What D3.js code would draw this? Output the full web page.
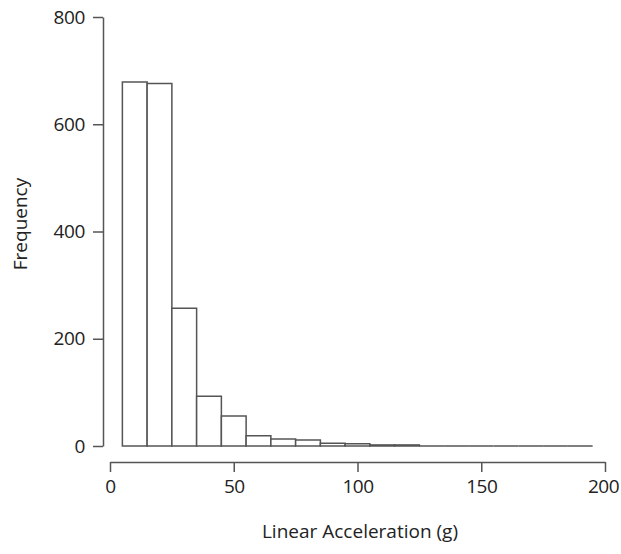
<!DOCTYPE html>
<html><head><meta charset="utf-8">
<script src="https://cdn.jsdelivr.net/npm/d3@7"></script>
<style>body{margin:0;background:#fff;} text{font-family:"Open Sans",sans-serif;fill:#222;}</style>
</head><body>
<svg id="c" width="621" height="554"></svg>
<script>
const binStarts = [5,15,25,35,45,55,65,75,85,95,105,115,125,135,145,155,165,175,185];
const binWidth = 10;
const frequency = [679,676,257,93,56,19,13,11,5,4,2,2,0,0,0,0,0,0,0];
const xTicks = [0,50,100,150,200];
const yTicks = [0,200,400,600,800];
const xLabel = "Linear Acceleration (g)";
const yLabel = "Frequency";

const svg = d3.select("#c");
const x = d3.scaleLinear().domain([0,200]).range([110,605]);
const y = d3.scaleLinear().domain([0,800]).range([446,17]);
const stroke = "#555";

// bars (paths so zero-height bins still show as a line)
svg.append("g").selectAll("path").data(binStarts).join("path")
  .attr("d", (d,i)=>{
    const x0=x(d), x1=x(d+binWidth), y0=y(0), y1=y(frequency[i]);
    return `M${x0},${y0}V${y1}H${x1}V${y0}Z`;
  })
  .attr("fill","#fff").attr("stroke",stroke).attr("stroke-width",1.5);

// y axis
const ya = svg.append("g").attr("transform","translate(103,0)")
  .call(d3.axisLeft(y).tickValues(yTicks).tickSize(10).tickPadding(8).tickSizeOuter(0));
ya.select(".domain").attr("stroke",stroke).attr("stroke-width",1.5);
ya.selectAll(".tick line").attr("stroke",stroke).attr("stroke-width",1.5);
ya.selectAll(".tick text").attr("font-size",19).attr("letter-spacing","-0.4px").style("font-family","'Open Sans',sans-serif").attr("fill","#222");

// x axis
const xa = svg.append("g").attr("transform","translate(0,462)")
  .call(d3.axisBottom(x).tickValues(xTicks).tickSize(10).tickPadding(8).tickSizeOuter(0));
xa.select(".domain").attr("stroke",stroke).attr("stroke-width",1.5);
xa.selectAll(".tick line").attr("stroke",stroke).attr("stroke-width",1.5);
xa.selectAll(".tick text").attr("font-size",19).attr("letter-spacing","-0.5px").style("font-family","'Open Sans',sans-serif").attr("fill","#222");
xa.selectAll(".tick text").filter(d=>d===200).attr("dx","-2");

svg.append("text").attr("x",360).attr("y",538).attr("text-anchor","middle")
  .attr("font-size",19).text(xLabel);
svg.append("text").attr("transform","translate(27,224) rotate(-90)").attr("text-anchor","middle")
  .attr("font-size",19).text(yLabel);
</script>
</body></html>
